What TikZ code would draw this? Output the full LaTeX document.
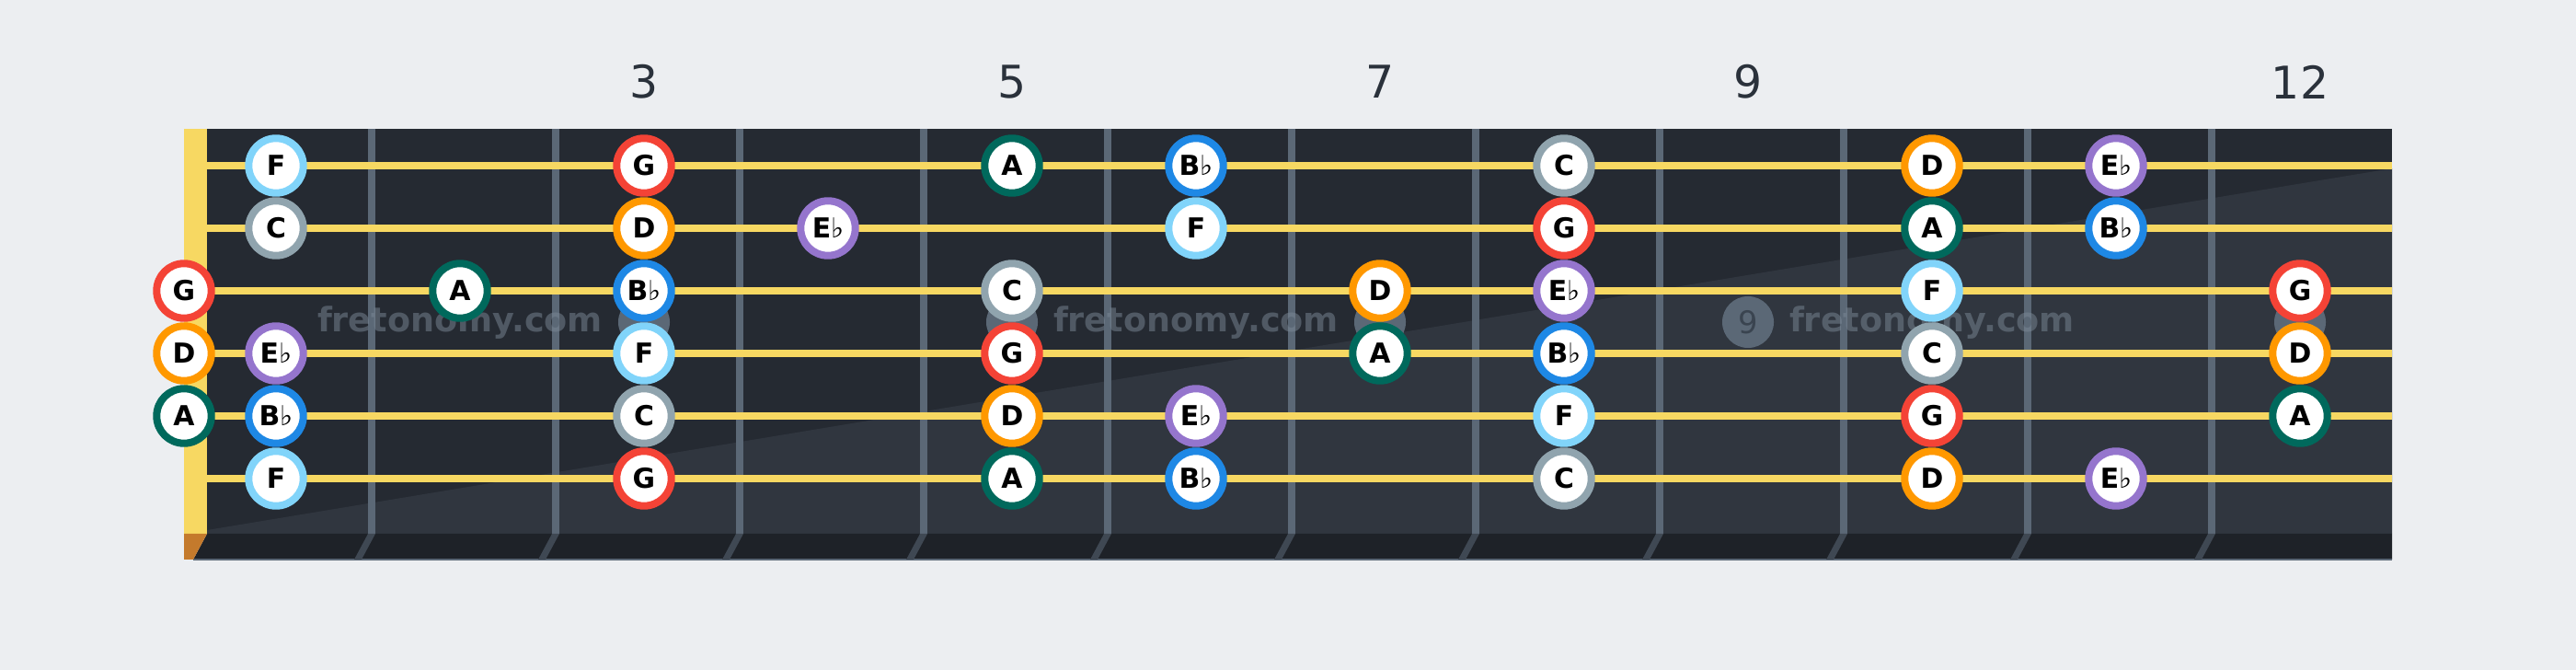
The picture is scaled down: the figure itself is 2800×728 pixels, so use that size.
\documentclass[tikz,border=0pt]{standalone}
\usepackage{fontspec}
\setmainfont{DejaVu Sans}
\usepackage{tikz}
\usetikzlibrary{positioning}
\usepackage{xcolor}
\definecolor{bgpaper}{HTML}{ECEEF1}
\definecolor{boarddark}{HTML}{252A32}
\definecolor{boardlight}{HTML}{30363F}
\definecolor{boardedge}{HTML}{1E2228}
\definecolor{fretgrey}{HTML}{5B6876}
\definecolor{stringgold}{HTML}{F7D862}
\definecolor{nutbrown}{HTML}{C47A2C}
\definecolor{numink}{HTML}{2A313B}
\definecolor{dotink}{HTML}{3A4450}
\definecolor{wmgrey}{HTML}{7B8896}
\definecolor{noteG}{HTML}{F44336}
\definecolor{noteD}{HTML}{FF9800}
\definecolor{noteA}{HTML}{00695C}
\definecolor{noteBb}{HTML}{1E88E5}
\definecolor{noteF}{HTML}{81D4FA}
\definecolor{noteC}{HTML}{90A4AE}
\definecolor{noteEb}{HTML}{9575CD}
\newcommand{\Bflat}{B{\mdseries ♭}}
\newcommand{\Eflat}{E{\mdseries ♭}}

\begin{document}
\begin{tikzpicture}[x=0.01cm, y=-0.01cm]
        \tikzstyle{note}=[circle, fill=white, line width=2.28pt, minimum size=0.594cm, inner sep=0pt, text=black, font=\fontsize{8.5}{10}\selectfont\bfseries]
        \tikzstyle{fretnum}=[text=numink, inner sep=0pt, font=\fontsize{13.9}{16}\selectfont]
        \tikzstyle{inlay}=[circle, fill=fretgrey, minimum size=0.56cm, inner sep=0pt, text=dotink, font=\fontsize{9.6}{11}\selectfont]
        \tikzstyle{wmark}=[text=wmgrey, text opacity=0.5, inner sep=0pt, font=\fontsize{10.4}{12}\selectfont\bfseries]

        % Paper
        \useasboundingbox (0,0) rectangle (2800,728);
        \fill[bgpaper] (0,0) rectangle (2800,728);

        % Fretboard, two tones split along the diagonal
        \fill[boarddark] (200,140) rectangle (2600,580);
        \fill[boardlight] (225,576) -- (2600,183) -- (2600,580) -- (225,580) -- cycle;
        \fill[boardedge] (225,580) -- (2600,580) -- (2600,608) -- (210,608) -- cycle;
        \draw[fretgrey, line width=0.5pt] (210,608) -- (2600,608);

        % Nut
        \fill[stringgold] (200,140) rectangle (225,580);
        \fill[nutbrown] (200,580) -- (225,580) -- (210,608) -- (200,608) -- cycle;

        % Frets (with their slanted edge on the side of the board)
        \foreach \k in {1,...,11} {
          \fill[fretgrey] (200+200*\k,140) rectangle (208+200*\k,580);
          \fill[fretgrey!55!boardedge] (200+200*\k,580) -- (208+200*\k,580) -- (193+200*\k,608) -- (185+200*\k,608) -- cycle;
        }

        % Inlays
        \node[inlay] (dot3) at (700,350) {};
        \node[inlay] (dot5) at (1100,350) {};
        \node[inlay] (dot7) at (1500,350) {};
        \node[inlay] (dot9) at (1900,350) {9};
        \node[inlay] (dot12) at (2500,350) {};

        % Watermark
        \node[wmark] (wm1) at (500,351) {fretonomy.com};
        \node[wmark] (wm2) at (1300,351) {fretonomy.com};
        \node[wmark] (wm3) at (2100,351) {fretonomy.com};

        % Strings
        \foreach \y in {180,248,316,384,452,520}
          \fill[stringgold] (225,\y-4) rectangle (2600,\y+4);

        % Fret numbers
        \node[fretnum] (num3) at (700,89) {3};
        \node[fretnum] (num5) at (1100,89) {5};
        \node[fretnum] (num7) at (1500,89) {7};
        \node[fretnum] (num9) at (1900,89) {9};
        \node[fretnum] (num12) at (2500,89) {12};

        % Notes, string by string (fret/label/colour)
        \foreach \s/\y/\notes in {
            1/180/{1/F/noteF,3/G/noteG,5/A/noteA,6/\Bflat/noteBb,8/C/noteC,10/D/noteD,11/\Eflat/noteEb},
            2/248/{1/C/noteC,3/D/noteD,4/\Eflat/noteEb,6/F/noteF,8/G/noteG,10/A/noteA,11/\Bflat/noteBb},
            3/316/{0/G/noteG,2/A/noteA,3/\Bflat/noteBb,5/C/noteC,7/D/noteD,8/\Eflat/noteEb,10/F/noteF,12/G/noteG},
            4/384/{0/D/noteD,1/\Eflat/noteEb,3/F/noteF,5/G/noteG,7/A/noteA,8/\Bflat/noteBb,10/C/noteC,12/D/noteD},
            5/452/{0/A/noteA,1/\Bflat/noteBb,3/C/noteC,5/D/noteD,6/\Eflat/noteEb,8/F/noteF,10/G/noteG,12/A/noteA},
            6/520/{1/F/noteF,3/G/noteG,5/A/noteA,6/\Bflat/noteBb,8/C/noteC,10/D/noteD,11/\Eflat/noteEb}} {
          \foreach \f/\n/\c in \notes {
            \pgfmathsetmacro{\xx}{\f==0 ? 200 : 100+200*\f}
            \node[note, draw=\c] (s\s f\f) at (\xx,\y) {\n};
          }
        }
\end{tikzpicture}
\end{document}
